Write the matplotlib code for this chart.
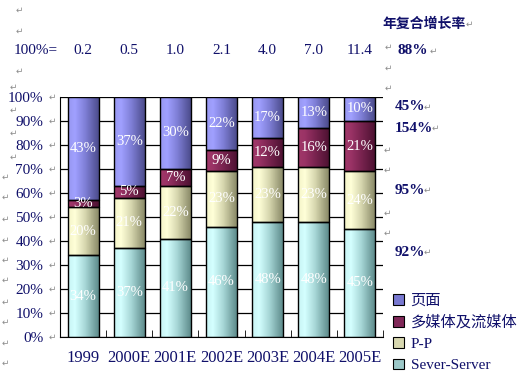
import numpy as np
import matplotlib
matplotlib.use("Agg")
import matplotlib.pyplot as plt
import matplotlib.transforms as mtransforms
from matplotlib.colors import LinearSegmentedColormap
from matplotlib.patches import Patch

categories = ["1999", "2000E", "2001E", "2002E", "2003E", "2004E", "2005E"]
totals = ["0.2", "0.5", "1.0", "2.1", "4.0", "7.0", "11.4"]
sever_server = [34, 37, 41, 46, 48, 48, 45]
p_p = [20, 21, 22, 23, 23, 23, 24]
multimedia = [3, 5, 7, 9, 12, 16, 21]
pages = [43, 37, 30, 22, 17, 13, 10]
series_names = ["Sever-Server", "P-P", "多媒体及流媒体", "页面"]
cagr_labels = ["92%", "95%", "154%", "45%"]
cagr_total = "88%"
yticks = [0, 10, 20, 30, 40, 50, 60, 70, 80, 90, 100]

series = [sever_server, p_p, multimedia, pages]
grad_colors = [
    ["#c8f4f4", "#d4ffff", "#a8d8d8", "#5e8c8c"],
    ["#f4f4c8", "#ffffd8", "#d8d8b0", "#8a8a68"],
    ["#a03868", "#9a3366", "#7a2450", "#4e1232"],
    ["#9898f0", "#a0a0ff", "#8080d8", "#4c4c8c"],
]
mid_colors = ["#9cc8c8", "#d8d8b0", "#802858", "#7878d0"]

LAT = ["Liberation Serif", "Noto Sans CJK SC", "DejaVu Sans"]
CJK = ["Noto Sans CJK SC", "Liberation Serif"]
NAVY = "#10106a"
MARK = "\u21b5"
MARKC = "#8c8c8c"

W, H = 523, 376
fig = plt.figure(figsize=(W / 100, H / 100), dpi=100)
ax = fig.add_axes([60 / W, 1 - 337 / H, 323 / W, 240 / H])


def fx(px):
    return px / W


def fy(py):
    return 1 - py / H


def mark(px, py, size=6.5):
    fig.text(fx(px), fy(py), MARK, color=MARKC, fontsize=size, family="DejaVu Sans",
             ha="left", va="center")


x = np.arange(len(categories))
width = 0.67
grad = np.linspace(0, 1, 64).reshape(1, -1)
bottom = np.zeros(len(categories))
for vals, cols in zip(series, grad_colors):
    vals = np.array(vals, dtype=float)
    bars = ax.bar(x, vals, width, bottom=bottom, color=cols[1], edgecolor="none", zorder=2)
    cmap = LinearSegmentedColormap.from_list("g", list(zip([0, 0.22, 0.55, 1.0], cols)))
    for b in bars:
        im = ax.imshow(grad, cmap=cmap, aspect="auto", zorder=2.5,
                       extent=[b.get_x(), b.get_x() + b.get_width(), b.get_y(), b.get_y() + b.get_height()])
        im.set_clip_path(b)
    ax.bar(x, vals, width, bottom=bottom, fill=False, edgecolor="black", linewidth=1.0, zorder=3)
    for xi, v, b0 in zip(x, vals, bottom):
        ax.text(xi, b0 + v / 2, f"{int(v)}%", ha="center", va="center", color="white",
                fontsize=10.5, family=LAT, zorder=4)
    bottom += vals

ax.set_xlim(-0.5, len(categories) - 0.5)
ax.set_ylim(0, 100)
ax.set_yticks(yticks)
ax.set_yticklabels([f"{t}%" for t in yticks], family=LAT, fontsize=11, color=NAVY)
ax.yaxis.grid(True, color="black", linewidth=0.9, zorder=1)
ax.set_axisbelow(True)
ax.tick_params(axis="y", length=0, pad=12)
ax.set_xticks(x)
ax.set_xticklabels(categories, family=LAT, fontsize=12, color=NAVY)
ax.tick_params(axis="x", length=0, pad=9)
ax.set_xticks(np.arange(len(categories) + 1) - 0.5, minor=True)
ax.tick_params(axis="x", which="minor", direction="in", length=5, color="black")
for s in ["top", "right"]:
    ax.spines[s].set_visible(False)
ax.spines["left"].set_color("black")
ax.spines["bottom"].set_color("black")

# paragraph marks after y tick labels
ytr = mtransforms.blended_transform_factory(fig.transFigure, ax.transData)
for t in yticks:
    ax.text(fx(49), t, MARK, transform=ytr, color=MARKC, fontsize=6.5, family="DejaVu Sans",
            ha="left", va="center")

# totals row
xtr = mtransforms.blended_transform_factory(ax.transData, fig.transFigure)
fig.text(fx(14), fy(50), "100%=", family=LAT, fontsize=11, color=NAVY, va="center")
for xi, t in zip(x, totals):
    ax.text(xi, fy(50), t, transform=xtr, ha="center", va="center",
            family=LAT, fontsize=11, color=NAVY)

# CAGR labels
fig.text(fx(382), fy(24), "年复合增长率", family=CJK, fontsize=10, weight="bold",
         color=NAVY, va="center")
fig.text(fx(397), fy(50), cagr_total, family=LAT, fontsize=11, weight="bold",
         color=NAVY, va="center")
cagr_y = [35, 61, 87, 96]
for lab, yv in zip(cagr_labels, cagr_y):
    ax.text(fx(395), yv, lab, transform=ytr,
            family=LAT, fontsize=11, weight="bold", color=NAVY, va="center")

# stray paragraph marks (document layout)
for px, py in [(16, 10), (16, 31), (16, 71), (10, 87), (466, 24), (385, 47), (430, 51),
               (385, 68), (385, 88), (10, 110), (10, 133), (10, 157), (2, 177), (2, 197),
               (2, 219), (2, 240), (2, 260), (2, 280), (2, 302), (2, 322), (2, 343),
               (2, 363), (424, 107), (432, 128), (384, 150), (384, 170), (424, 190),
               (384, 213), (384, 233), (424, 252)]:
    mark(px, py)

handles = [Patch(facecolor=c, edgecolor="black", linewidth=0.8) for c in mid_colors[::-1]]
leg = fig.legend(handles, series_names[::-1], loc="upper left",
                 bbox_to_anchor=(fx(393), fy(294)), frameon=False,
                 prop={"family": LAT, "size": 11}, handlelength=0.7, handleheight=0.7,
                 handletextpad=0.45, labelspacing=0.5, borderaxespad=0, borderpad=0)
for t in leg.get_texts():
    t.set_color(NAVY)

fig.savefig("out.png", dpi=100)
